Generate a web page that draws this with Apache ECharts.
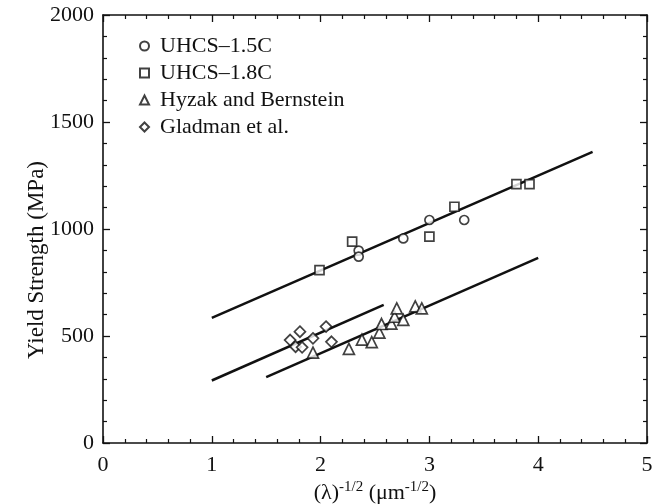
<!DOCTYPE html>
<html>
<head>
<meta charset="utf-8">
<script src="https://cdn.jsdelivr.net/npm/echarts@6/dist/echarts.min.js"></script>
<style>
  html, body { margin: 0; padding: 0; background: #fff; }
  #chart { width: 662px; height: 504px; }
</style>
</head>
<body>
<div id="chart"></div>
<script>
// 数据点 [x, y]
const uhcs15 = [[2.35, 899], [2.35, 871], [2.76, 956], [3.0, 1042], [3.32, 1042]];
const uhcs18 = [[1.99, 808], [2.29, 941], [3.0, 964], [3.23, 1104], [3.8, 1210], [3.92, 1210]];
const hyzak = [[1.93, 422], [2.26, 440], [2.38, 483], [2.47, 471], [2.54, 516], [2.56, 556],
  [2.65, 558], [2.68, 590], [2.70, 629], [2.76, 575], [2.87, 638], [2.93, 629]];
const gladman = [[1.72, 481], [1.77, 450], [1.81, 520], [1.83, 447], [1.93, 489], [2.05, 544], [2.10, 473]];
// 拟合直线
const fitUhcs = [[1.0, 585], [4.5, 1360]];
const fitGladman = [[1.0, 292], [2.58, 645]];
const fitHyzak = [[1.5, 308], [4.0, 865]];
const legendNames = ['UHCS\u20131.5C', 'UHCS\u20131.8C', 'Hyzak and Bernstein', 'Gladman et al.'];

const font = '"Liberation Serif", "DejaVu Serif", serif';
const black = '#111';

let myChart = echarts.init(document.getElementById('chart'));

function fitLine(data) {
  return {
    type: 'line',
    data: data,
    showSymbol: false,
    silent: true,
    z: 1,
    lineStyle: { color: black, width: 2.5 }
  };
}

function scatter(name, data, symbol, size) {
  return {
    name: name,
    type: 'scatter',
    data: data,
    symbol: symbol,
    symbolSize: size,
    z: 5,
    itemStyle: { color: '#fff', borderColor: black, borderWidth: 1.7 }
  };
}

function axisStyle() {
  return {
    axisLine: { show: true, onZero: false, lineStyle: { color: black, width: 1.6 } },
    axisTick: { show: true, inside: true, length: 7, lineStyle: { color: black, width: 1.3 } },
    minorTick: { show: true, splitNumber: 5, length: 4, lineStyle: { color: black, width: 1.2 } },
    splitLine: { show: false }
  };
}

let option = {
  animation: false,
  backgroundColor: '#fff',
  grid: { left: 103, right: 15, top: 15, bottom: 61, outerBoundsMode: 'none', containLabel: false },
  legend: {
    data: legendNames,
    orient: 'vertical',
    left: 134,
    top: 30,
    itemWidth: 9,
    itemHeight: 9,
    itemGap: 5,
    textStyle: { fontFamily: font, fontSize: 22, color: black, padding: [0, 0, 0, 6] }
  },
  xAxis: [
    Object.assign({
      type: 'value',
      min: 0, max: 5, interval: 1,
      name: '{n|(\u03bb)}{s|-1/2}{n| (\u03bcm}{s|-1/2}{n|)}',
      nameLocation: 'middle',
      nameGap: 37,
      nameMoveOverlap: false,
      nameTextStyle: {
        rich: {
          n: { fontFamily: font, fontSize: 22, color: black, lineHeight: 24, verticalAlign: 'bottom' },
          s: { fontFamily: font, fontSize: 15, color: black, lineHeight: 24, verticalAlign: 'top', padding: [0, 0, 10, 0] }
        }
      },
      axisLabel: { fontFamily: font, fontSize: 22, color: black, margin: 11 }
    }, axisStyle()),
    Object.assign({
      type: 'value', position: 'top',
      min: 0, max: 5, interval: 1,
      axisLabel: { show: false }
    }, axisStyle())
  ],
  yAxis: [
    Object.assign({
      type: 'value',
      min: 0, max: 2000, interval: 500,
      name: 'Yield Strength (MPa)',
      nameLocation: 'middle',
      nameGap: 55,
      nameMoveOverlap: false,
      nameTextStyle: { fontFamily: font, fontSize: 23, color: black, padding: [0, 62, 0, 0] },
      axisLabel: { fontFamily: font, fontSize: 22, color: black, margin: 9, formatter: function (v) { return String(v); } }
    }, axisStyle()),
    Object.assign({
      type: 'value', position: 'right',
      min: 0, max: 2000, interval: 500,
      axisLabel: { show: false }
    }, axisStyle())
  ],
  series: [
    fitLine(fitUhcs),
    fitLine(fitGladman),
    fitLine(fitHyzak),
    scatter(legendNames[0], uhcs15, 'circle', 9),
    scatter(legendNames[1], uhcs18, 'rect', 9),
    scatter(legendNames[2], hyzak, 'triangle', 11),
    scatter(legendNames[3], gladman, 'diamond', 11)
  ]
};
myChart.setOption(option, (window.onresize = myChart.resize));
</script>
</body>
</html>
